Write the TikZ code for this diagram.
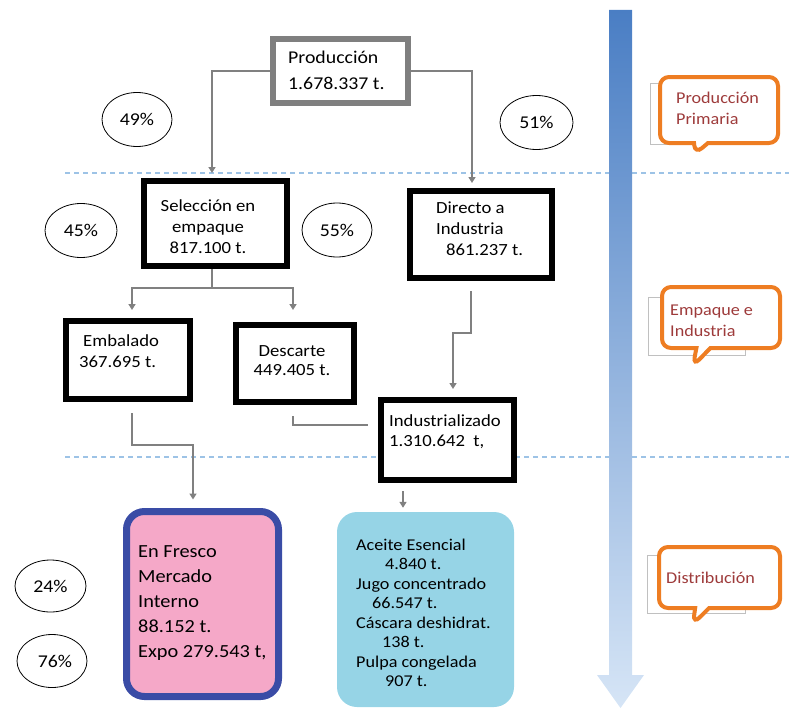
\documentclass[tikz,border=0pt]{standalone}
\usepackage{fontspec}
\setmainfont{Carlito}[FakeStretch=1.1]
\usetikzlibrary{shapes.geometric,shapes.callouts,arrows.meta,calc}
\definecolor{conngray}{HTML}{808080}
\definecolor{prodgray}{HTML}{7F7F7F}
\definecolor{dashblue}{HTML}{9DC3E6}
\definecolor{frescofill}{HTML}{F5A8C8}
\definecolor{frescoline}{HTML}{3A4CA6}
\definecolor{aceitefill}{HTML}{96D4E6}
\definecolor{arrtop}{HTML}{4A7EC4}
\definecolor{arrbot}{HTML}{D6E5F6}
\definecolor{callorange}{HTML}{EE7D22}
\definecolor{calltext}{HTML}{9E3B3B}
\definecolor{callgray}{HTML}{C0C0C0}
\begin{document}
\begin{tikzpicture}[x=1pt,y=-1pt,
  bbox/.style={draw=black,line width=6pt,fill=white,inner sep=0pt},
  gbox/.style={draw=prodgray,line width=6pt,fill=white,inner sep=0pt},
  txt/.style={inner sep=0pt,text=black,font=\fontsize{17}{21}\selectfont},
  pct/.style={draw,ellipse,line width=0.8pt,minimum width=70pt,minimum height=54pt,inner sep=0pt,font=\fontsize{18}{20}\selectfont},
  ln/.style={draw=conngray,line width=2.2pt},
  arr/.style={ln,-{Triangle[length=6pt,width=7pt]}},
  dashline/.style={draw=dashblue,line width=1.5pt,dash pattern=on 5pt off 4pt},
  callo/.style={rectangle callout,draw=callorange,line width=4pt,fill=white,rounded corners=9pt,inner sep=0pt,callout pointer width=14pt},
  calltxt/.style={inner sep=0pt,anchor=west,align=left,text=calltext,font=\fontsize{16.5}{21}\selectfont},
  graybg/.style={draw=callgray,line width=1pt}
]
\useasboundingbox (0,0) rectangle (789,709);

% dashed separators
\draw[dashline] (65,173) -- (789,173);
\draw[dashline] (65,457) -- (789,457);

% big gradient arrow
\shade[top color=arrtop,bottom color=arrbot] (609,10) -- (632,10) -- (632,675) -- (644,675) -- (620.5,708) -- (597,675) -- (609,675) -- cycle;

% boxes
\node[gbox,minimum width=135pt,minimum height=64pt] (prod) at (340.5,71) {};
\node[txt,anchor=west,align=left,font=\fontsize{18}{26}\selectfont] (prodtxt) at (288,70) {Producción\\1.678.337 t.};

\node[bbox,minimum width=143pt,minimum height=85pt] (sel) at (215.5,223.5) {};
\node[txt,align=center] (seltxt) at (208,227) {Selección en\\empaque\\817.100 t.};

\node[bbox,minimum width=142pt,minimum height=87pt] (dir) at (481,234.5) {};
\node[txt,anchor=west,align=left] (dirtxt) at (436,229) {Directo a\\Industria\\\hspace{10pt}861.237 t.};

\node[bbox,minimum width=124pt,minimum height=78pt] (emb) at (128,360) {};
\node[txt,anchor=west,align=left] (embtxt) at (79,351.5) {\hspace{4pt}Embalado\\367.695 t.};

\node[bbox,minimum width=118pt,minimum height=77pt] (desc) at (295,363.5) {};
\node[txt,align=center,font=\fontsize{17}{19.5}\selectfont] (desctxt) at (292,360.5) {Descarte\\449.405 t.};

\node[bbox,minimum width=133pt,minimum height=80pt] (ind) at (447.5,440) {};
\node[txt,anchor=west,align=left,font=\fontsize{17}{20}\selectfont] (indtxt) at (389,432) {Industrializado\\1.310.642~~t,};

\node[draw=frescoline,line width=7pt,fill=frescofill,rounded corners=18pt,inner sep=0pt,minimum width=152pt,minimum height=185pt] (fresco) at (202.5,604) {};
\node[txt,anchor=west,align=left,font=\fontsize{18.5}{25}\selectfont] (frescotxt) at (138,603) {En Fresco\\Mercado\\Interno\\88.152 t.\\Expo 279.543 t,};

\node[fill=aceitefill,rounded corners=20pt,inner sep=0pt,minimum width=177pt,minimum height=195pt] (aceite) at (425.5,609.5) {};
\node[txt,anchor=west,align=left,font=\fontsize{16.5}{19.5}\selectfont] (aceitetxt) at (356,613) {Aceite Esencial\\\hspace{29pt}4.840 t.\\Jugo concentrado\\\hspace{16pt}66.547 t.\\Cáscara deshidrat.\\\hspace{26pt}138 t.\\Pulpa congelada\\\hspace{29pt}907 t.};

% percentages
\node[pct] (p49) at (137,119.5) {49\%};
\node[pct,minimum width=73pt] (p51) at (536.5,122.5) {51\%};
\node[pct,minimum width=72pt] (p45) at (81,230.5) {45\%};
\node[pct] (p55) at (337,230) {55\%};
\node[pct,minimum width=71pt,minimum height=52pt] (p24) at (50.5,586) {24\%};
\node[pct,minimum width=70pt,minimum height=53pt] (p76) at (52,661) {\hspace{6pt}76\%};

% connectors
\draw[arr,shorten >=5pt] (prod.west) -| ($(sel.north)+(-3.5,0)$);
\draw[arr,shorten >=5pt] (prod.east) -| ($(dir.north)+(-9,0)$);

\coordinate (split) at (212,288);
\draw[ln] (sel.south -| split) -- (split);
\draw[arr,shorten >=8pt] (split) -| ($(emb.north)+(4,0)$);
\draw[arr,shorten >=12pt] (split) -| ($(desc.north)+(-2,0)$);

\coordinate (dmid) at (462,333);
\draw[arr,shorten <=10pt,shorten >=8pt] ($(dir.south)+(-10,0)$) |- (dmid) -| ($(ind.north)+(5.5,0)$);

\coordinate (dend) at (368,425);
\draw[ln,shorten <=11pt] ($(desc.south)+(-2,0)$) |- (dend);

\coordinate (ebend) at (160,445);
\draw[arr,shorten <=11pt,shorten >=8.5pt] ($(emb.south)+(4,0)$) |- (ebend) -| ($(fresco.north)+(-9.5,0)$);

\coordinate (iout) at ($(ind.south)+(-44.5,0)$);
\draw[arr,shorten <=8pt,shorten >=4pt] (iout) -- (iout |- aceite.north);

% callouts
\draw[graybg] (650,83) rectangle (745,144);
\node[callo,minimum width=118pt,minimum height=66pt,callout absolute pointer={(695,154)}] (c1) at (719,110) {};
\node[calltxt] (c1txt) at (676,108) {Producción\\Primaria};

\draw[graybg] (648,297) rectangle (745,355);
\node[callo,minimum width=118pt,minimum height=61pt,callout absolute pointer={(693,366)}] (c2) at (721,317.5) {};
\node[calltxt] (c2txt) at (670,321) {Empaque e\\Industria};

\draw[graybg] (647,555) rectangle (745,613);
\node[callo,minimum width=121pt,minimum height=61pt,callout absolute pointer={(693,624)}] (c3) at (719.5,577.5) {};
\node[calltxt] (c3txt) at (666,578) {Distribución};
\end{tikzpicture}
\end{document}
